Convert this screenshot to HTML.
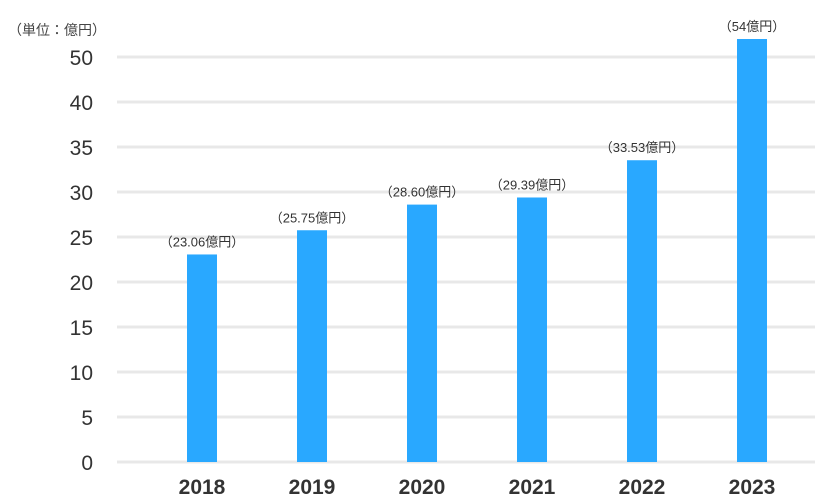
<!DOCTYPE html>
<html><head><meta charset="utf-8"><style>
body{margin:0;background:#fff;}
svg{display:block;font-family:"Liberation Sans","Noto Sans CJK JP",sans-serif;}
</style></head><body>
<svg id="chart" width="820" height="500">
<text x="8" y="35" font-size="14" fill="#444">（単位：億円）</text>
<g id="grid"></g><g id="bars"></g>
</svg>
<script>
const categories=["2018","2019","2020","2021","2022","2023"];
const values=[23.06,25.75,28.60,29.39,33.53,54];
const valueLabels=["（23.06億円）","（25.75億円）","（28.60億円）","（29.39億円）","（33.53億円）","（54億円）"];
const tickValues=[0,5,10,15,20,25,30,35,40,50];
const ns="http://www.w3.org/2000/svg";
const y0=462,step=45;
function yScale(v){
  for(let i=0;i<tickValues.length-1;i++){
    if(v<=tickValues[i+1]){return y0-step*(i+(v-tickValues[i])/(tickValues[i+1]-tickValues[i]));}
  }
  const n=tickValues.length-1,d=tickValues[n]-tickValues[n-1];
  return y0-step*(n+(v-tickValues[n])/d);
}
function xScale(i){return 202+i*110;}
function mk(t,a,p){const e=document.createElementNS(ns,t);for(const k in a)e.setAttribute(k,a[k]);p.appendChild(e);return e;}
const grid=document.getElementById('grid'),bars=document.getElementById('bars');
tickValues.forEach(v=>{
  const y=yScale(v);
  const l=mk('line',{x1:117,x2:815,y1:y,y2:y,stroke:'#e8e8e8','stroke-width':3},grid);
  
  
  const t=mk('text',{x:93,y:y+8,'text-anchor':'end','font-size':21,fill:'#333'},grid);
  t.textContent=v;
  
  
});
categories.forEach((c,i)=>{
  const x=xScale(i),y=yScale(values[i]);
  const r=mk('rect',{x:x-15,y:y,width:30,height:y0-y,fill:'#29a8ff'},bars);
  
  
  const vl=mk('text',{x:x,y:y-8,'text-anchor':'middle','font-size':13,fill:'#333'},bars);
  vl.textContent=valueLabels[i];
  
  
  const cl=mk('text',{x:x,y:494,'text-anchor':'middle','font-size':21,'font-weight':'bold',fill:'#333'},bars);
  cl.textContent=c;
  
  
});
</script>
</body></html>
